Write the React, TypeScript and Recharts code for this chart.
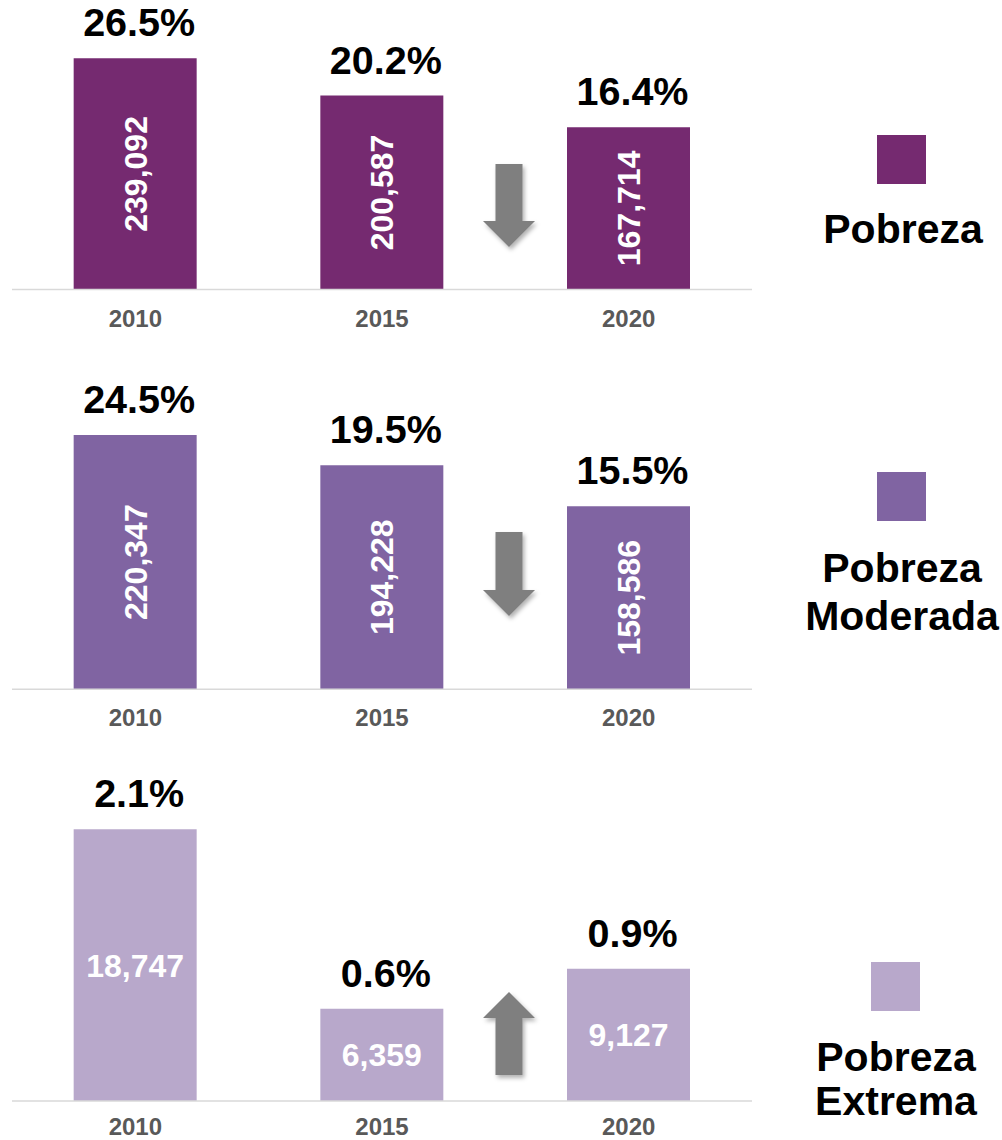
import React from 'react';
import { BarChart, Bar, XAxis, YAxis, LabelList } from 'recharts';

// ---- data ----
const years = ['2010', '2015', '2020'];
const pobreza = [239092, 200587, 167714];
const pobrezaPct = [26.5, 20.2, 16.4];
const moderada = [220347, 194228, 158586];
const moderadaPct = [24.5, 19.5, 15.5];
const extrema = [18747, 6359, 9127];
const extremaPct = [2.1, 0.6, 0.9];

const FONT = '"Liberation Sans", Arial, Helvetica, sans-serif';
const ARROW = '#7f7f7f';

type Panel = {
  id: string;
  values: number[];
  pcts: number[];
  color: string;
  top: number;
  height: number;
  marginTop: number;
  xAxisHeight: number;
  tickMargin: number;
  yMax: number;
  vertical: boolean;
  arrow: { dir: 'up' | 'down'; from: number; to: number };
  legend: { sqX: number; sqY: number; cx: number; lines: { text: string; y: number }[] };
};

const panels: Panel[] = [
  {
    id: 'p1', values: pobreza, pcts: pobrezaPct, color: '#752A70',
    top: 0, height: 340, marginTop: 28.4, xAxisHeight: 50.5, tickMargin: 20, yMax: 270000, vertical: true,
    arrow: { dir: 'down', from: 125.5, to: 42.5 },
    legend: { sqX: 877, sqY: 135, cx: 903, lines: [{ text: 'Pobreza', y: 243 }] },
  },
  {
    id: 'p2', values: moderada, pcts: moderadaPct, color: '#8064A2',
    top: 340, height: 400, marginTop: 60.8, xAxisHeight: 50.7, tickMargin: 20, yMax: 250000, vertical: true,
    arrow: { dir: 'down', from: 157.3, to: 73.3 },
    legend: { sqX: 877, sqY: 472, cx: 902, lines: [{ text: 'Pobreza', y: 582 }, { text: 'Moderada', y: 630 }] },
  },
  {
    id: 'p3', values: extrema, pcts: extremaPct, color: '#B8A8CB',
    top: 740, height: 400, marginTop: 71.1, xAxisHeight: 39, tickMargin: 17, yMax: 20000, vertical: false,
    arrow: { dir: 'up', from: 109, to: 26 },
    legend: { sqX: 871, sqY: 962, cx: 896, lines: [{ text: 'Pobreza', y: 1071 }, { text: 'Extrema', y: 1115 }] },
  },
];

const fmtNum = (v: number) => v.toLocaleString('en-US');
const fmtPct = (v: number) => v.toFixed(1) + '%';

function geom(props: any) {
  const vb = props.viewBox || {};
  const x = props.x ?? vb.x;
  const y = props.y ?? vb.y;
  const width = props.width ?? vb.width;
  const height = props.height ?? vb.height;
  return { x: Number(x), y: Number(y), width: Number(width), height: Number(height) };
}

const makePctLabel = () => (props: any) => {
  const { x, y, width } = geom(props);
  return (
    <text
      x={x + width / 2 + 4}
      y={y - 22}
      textAnchor="middle"
      fill="#000"
      fontFamily={FONT}
      fontWeight="bold"
      fontSize={39.5}
    >
      {props.value}
    </text>
  );
};

const makeValueLabel = (vertical: boolean) => (props: any) => {
  const { x, y, width, height } = geom(props);
  const cx = x + width / 2;
  const cy = y + height / 2;
  const fs = 32;
  if (vertical) {
    return (
      <g transform={`translate(${cx},${cy}) rotate(-90)`}>
        <text x={0} y={fs * 0.36} textAnchor="middle" fill="#fff" fontFamily={FONT} fontWeight="bold" fontSize={fs}>
          {props.value}
        </text>
      </g>
    );
  }
  return (
    <text x={cx} y={cy + fs * 0.36} textAnchor="middle" fill="#fff" fontFamily={FONT} fontWeight="bold" fontSize={fs}>
      {props.value}
    </text>
  );
};

const makeArrow = (panel: Panel, lastValue: string) => (props: any) => {
  const idx = props.index;
  const isLast = idx !== undefined ? idx === 2 : props.value === lastValue;
  if (!isLast) return null;
  const { x, y, height } = geom(props);
  const base = y + height;
  const cx = x - 58;
  const sw = 13.5;
  const hw = 26;
  const hh = 26;
  const fid = `shadow-${panel.id}`;
  let pts: number[][];
  if (panel.arrow.dir === 'down') {
    const top = base - panel.arrow.from;
    const tip = base - panel.arrow.to;
    pts = [
      [cx - sw, top], [cx + sw, top], [cx + sw, tip - hh], [cx + hw, tip - hh],
      [cx, tip], [cx - hw, tip - hh], [cx - sw, tip - hh],
    ];
  } else {
    const tip = base - panel.arrow.from;
    const bottom = base - panel.arrow.to;
    pts = [
      [cx, tip], [cx + hw, tip + hh], [cx + sw, tip + hh], [cx + sw, bottom],
      [cx - sw, bottom], [cx - sw, tip + hh], [cx - hw, tip + hh],
    ];
  }
  return (
    <g>
      <defs>
        <filter id={fid} x="-50%" y="-50%" width="200%" height="200%">
          <feDropShadow dx="2" dy="3" stdDeviation="2" floodColor="#000" floodOpacity="0.3" />
        </filter>
      </defs>
      <polygon points={pts.map((p) => p.join(',')).join(' ')} fill={ARROW} filter={`url(#${fid})`} />
    </g>
  );
};

function PanelChart({ panel }: { panel: Panel }) {
  const data = years.map((year, i) => ({
    year,
    value: panel.values[i],
    valueLabel: fmtNum(panel.values[i]),
    pctLabel: fmtPct(panel.pcts[i]),
  }));
  return (
    <div style={{ position: 'absolute', left: 0, top: panel.top, width: 770, height: panel.height }}>
      <BarChart
        width={770}
        height={panel.height}
        data={data}
        margin={{ top: panel.marginTop, right: 18, bottom: 0, left: 12 }}
        barCategoryGap="25%"
      >
        <XAxis
          dataKey="year"
          height={panel.xAxisHeight}
          axisLine={{ stroke: '#d9d9d9', strokeWidth: 1.5 }}
          tickLine={false}
          tickSize={0}
          tickMargin={panel.tickMargin}
          interval={0}
          tick={{ fill: '#595959', fontSize: 24, fontWeight: 'bold', fontFamily: FONT }}
        />
        <YAxis hide domain={[0, panel.yMax]} />
        <Bar dataKey="value" fill={panel.color} isAnimationActive={false}>
          <LabelList dataKey="pctLabel" content={makePctLabel()} />
          <LabelList dataKey="valueLabel" content={makeValueLabel(panel.vertical)} />
          <LabelList dataKey="valueLabel" content={makeArrow(panel, fmtNum(panel.values[2]))} />
        </Bar>
      </BarChart>
    </div>
  );
}

function Legends() {
  return (
    <svg
      width={232}
      height={1140}
      viewBox="770 0 232 1140"
      style={{ position: 'absolute', left: 770, top: 0 }}
    >
      {panels.map((p) => (
        <g key={p.id}>
          <rect x={p.legend.sqX} y={p.legend.sqY} width={49} height={49} fill={p.color} />
          {p.legend.lines.map((l) => (
            <text
              key={l.text}
              x={p.legend.cx}
              y={l.y}
              textAnchor="middle"
              fill="#000"
              fontFamily={FONT}
              fontWeight="bold"
              fontSize={41}
            >
              {l.text}
            </text>
          ))}
        </g>
      ))}
    </svg>
  );
}

export default function App() {
  return (
    <div style={{ position: 'absolute', left: 0, top: 0, width: 1002, height: 1140, background: '#fff' }}>
      {panels.map((p) => (
        <PanelChart key={p.id} panel={p} />
      ))}
      <Legends />
    </div>
  );
}
